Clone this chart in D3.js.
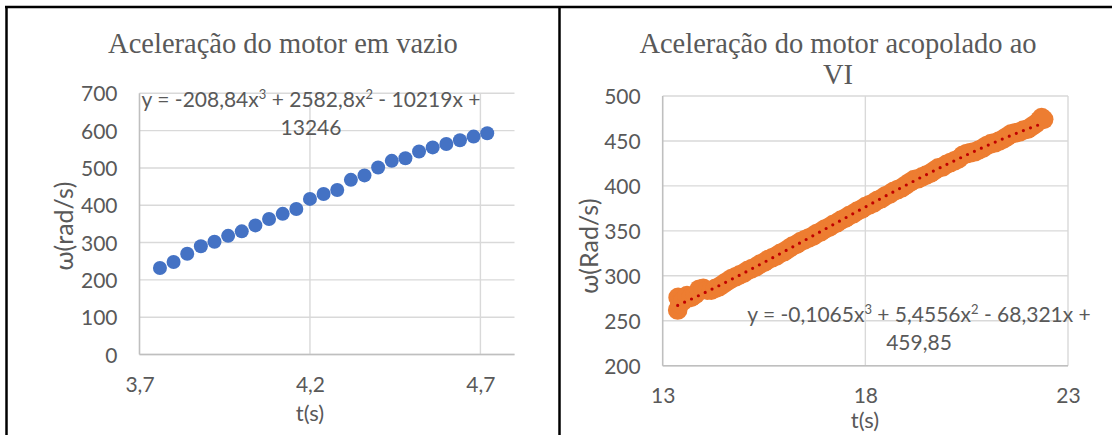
<!DOCTYPE html>
<html>
<head>
<meta charset="utf-8">
<script src="https://cdn.jsdelivr.net/npm/d3@7"></script>
<style>
  html, body { margin: 0; padding: 0; background: #fff; }
  svg { display: block; }
</style>
</head>
<body>
<svg id="chart" width="1112" height="435"></svg>
<script>
// ---- Motor em vazio ----
const tVazio = [3.76, 3.80, 3.84, 3.88, 3.92, 3.96, 4.00, 4.04, 4.08, 4.12,
                4.16, 4.20, 4.24, 4.28, 4.32, 4.36, 4.40, 4.44, 4.48, 4.52,
                4.56, 4.60, 4.64, 4.68, 4.72];
const wVazio = [232, 248, 270, 290, 302, 318, 330, 346, 363, 377,
                390, 417, 430, 441, 468, 480, 501, 519, 526, 544,
                555, 564, 574, 584, 593];
const xTicksVazio = [3.7, 4.2, 4.7];
const yTicksVazio = [0, 100, 200, 300, 400, 500, 600, 700];
const eqVazio = [["y = -208,84x", "3", " + 2582,8x", "2", " - 10219x +"], ["13246"]];

// ---- Motor acoplado ao VI ----
const tVI = [13.37, 13.38, 13.42, 13.5, 13.6, 13.7, 13.8, 13.9, 14.0, 14.1,
             14.2, 14.3, 14.4, 14.5, 14.6, 14.7, 14.8, 14.9, 15.0, 15.1,
             15.2, 15.3, 15.4, 15.5, 15.6, 15.7, 15.8, 15.9, 16.0, 16.1,
             16.2, 16.3, 16.4, 16.5, 16.6, 16.7, 16.8, 16.9, 17.0, 17.1,
             17.2, 17.3, 17.4, 17.5, 17.6, 17.7, 17.8, 17.9, 18.0, 18.1,
             18.2, 18.3, 18.4, 18.5, 18.6, 18.7, 18.8, 18.9, 19.0, 19.1,
             19.2, 19.3, 19.4, 19.5, 19.6, 19.7, 19.8, 19.9, 20.0, 20.1,
             20.2, 20.3, 20.4, 20.5, 20.6, 20.7, 20.8, 20.9, 21.0, 21.1,
             21.2, 21.3, 21.4, 21.5, 21.6, 21.7, 21.8, 21.9, 22.0, 22.1,
             22.2, 22.3, 22.35, 22.4];
const wVI = [262, 276, 269, 272, 278, 276, 279, 285, 286, 284,
             284, 286, 288, 291, 294, 297, 299, 301, 303, 306,
             308, 310, 313, 315, 318, 320, 322, 325, 327, 330,
             333, 335, 338, 340, 342, 344, 347, 349, 352, 354,
             357, 359, 362, 364, 367, 369, 372, 374, 377, 379,
             381, 384, 386, 389, 391, 394, 396, 398, 401, 404,
             407, 408, 410, 412, 414, 417, 420, 421, 424, 426,
             428, 430, 434, 436, 437, 438, 440, 442, 445, 447,
             448, 450, 452, 455, 458, 459, 460, 462, 463, 466,
             469, 473, 476, 474];
const xTicksVI = [13, 18, 23];
const yTicksVI = [200, 250, 300, 350, 400, 450, 500];
// polynomial trend line coefficients (x^3, x^2, x, 1)
const coefVI = [-0.1065, 5.4556, -68.321, 459.85];
const eqVI = [["y = -0,1065x", "3", " + 5,4556x", "2", " - 68,321x +"], ["459,85"]];

const ptBR = d3.formatLocale({decimal: ",", thousands: ".", grouping: [3], currency: ["R$", ""]});
const TXT = "#595959";
const SANS = "Lato, 'Open Sans', sans-serif";
const SERIF = "'Liberation Serif', 'DejaVu Serif', serif";

const svg = d3.select("#chart");

// page frame lines
const frame = svg.append("g").attr("stroke", "#000").attr("stroke-width", 2.5);
frame.append("line").attr("x1", 5).attr("x2", 1112).attr("y1", 7).attr("y2", 7);
frame.append("line").attr("x1", 6.5).attr("x2", 6.5).attr("y1", 6).attr("y2", 435);
frame.append("line").attr("x1", 559.5).attr("x2", 559.5).attr("y1", 6).attr("y2", 435);

function drawChart(cfg) {
  const g = svg.append("g");
  const x = d3.scaleLinear().domain(cfg.xDomain).range([cfg.left, cfg.right]);
  const y = d3.scaleLinear().domain(cfg.yDomain).range([cfg.bottom, cfg.top]);

  // gridlines
  g.append("g").selectAll("line.h").data(cfg.yTicks).join("line")
    .attr("x1", cfg.left).attr("x2", cfg.right)
    .attr("y1", d => y(d)).attr("y2", d => y(d))
    .attr("stroke", "#d9d9d9").attr("stroke-width", 1.4);
  g.append("g").selectAll("line.v").data(cfg.xTicks.filter(d => d !== cfg.xDomain[0])).join("line")
    .attr("x1", d => x(d)).attr("x2", d => x(d))
    .attr("y1", cfg.top).attr("y2", cfg.bottom)
    .attr("stroke", "#d9d9d9").attr("stroke-width", 1.4);

  // axis lines
  g.append("line").attr("x1", cfg.left).attr("x2", cfg.right)
    .attr("y1", y(cfg.yDomain[0])).attr("y2", y(cfg.yDomain[0]))
    .attr("stroke", "#bfbfbf").attr("stroke-width", 1.6);
  g.append("line").attr("x1", cfg.left).attr("x2", cfg.left)
    .attr("y1", cfg.top).attr("y2", cfg.bottom)
    .attr("stroke", "#bfbfbf").attr("stroke-width", 1.6);

  // tick labels via d3 axes
  const ya = g.append("g").attr("transform", `translate(${cfg.left - 22},0)`)
    .call(d3.axisLeft(y).tickValues(cfg.yTicks).tickSize(0).tickPadding(0).tickFormat(d3.format("d")));
  const xa = g.append("g").attr("transform", `translate(0,${cfg.bottom + 37})`)
    .call(d3.axisBottom(x).tickValues(cfg.xTicks).tickSize(0).tickPadding(0).tickFormat(cfg.xFormat));
  [ya, xa].forEach(a => {
    a.select(".domain").remove();
    a.selectAll("text").attr("fill", TXT).attr("font-family", SANS).attr("font-size", 21);
  });
  ya.selectAll("text").attr("dy", "0.36em");
  xa.selectAll("text").attr("dy", 0).attr("y", 0);

  // markers
  g.append("g").selectAll("circle").data(cfg.t).join("circle")
    .attr("cx", d => x(d)).attr("cy", (d, i) => y(cfg.w[i]))
    .attr("r", cfg.r).attr("fill", cfg.color);

  // trend line
  if (cfg.coef) {
    const [a, b, c, k] = cfg.coef;
    const t0 = d3.min(cfg.t), t1 = d3.max(cfg.t);
    const ts = d3.range(0, 201).map(i => t0 + (t1 - t0) * i / 200);
    g.append("path")
      .datum(ts)
      .attr("d", d3.line().x(d => x(d)).y(d => y(((a * d + b) * d + c) * d + k)))
      .attr("fill", "none").attr("stroke", "#c00000").attr("stroke-width", 3.2)
      .attr("stroke-linecap", "round").attr("stroke-dasharray", "0 7.6");
  }

  // equation label
  const eq = g.append("text").attr("fill", TXT).attr("font-family", SANS).attr("font-size", 21)
    .attr("text-anchor", "middle");
  cfg.eq.forEach((line, li) => {
    const tl = eq.append("tspan").attr("x", cfg.eqX).attr("y", cfg.eqY + li * 28.5);
    line.forEach((part, pi) => {
      if (pi % 2 === 1) {
        tl.append("tspan").attr("font-size", 13).attr("dy", -8).text(part);
      } else {
        const s = tl.append("tspan").text(part);
        if (pi > 0) s.attr("dy", 8);
      }
    });
  });

  // chart title
  const title = g.append("text").attr("fill", TXT).attr("font-family", SERIF)
    .attr("font-size", 28.5).attr("text-anchor", "middle");
  cfg.title.forEach((line, i) => {
    title.append("tspan").attr("x", cfg.titleX).attr("y", cfg.titleY + i * 31).text(line);
  });

  // axis titles
  g.append("text").attr("fill", TXT).attr("font-family", SANS).attr("font-size", 22)
    .attr("text-anchor", "middle").attr("x", cfg.xTitle[0]).attr("y", cfg.xTitle[1]).text("t(s)");
  g.append("text").attr("fill", TXT).attr("font-family", SANS).attr("font-size", 25)
    .attr("text-anchor", "middle")
    .attr("transform", `translate(${cfg.yTitle[0]},${cfg.yTitle[1]}) rotate(-90)`)
    .text(cfg.yLabel);
}

drawChart({
  t: tVazio, w: wVazio, color: "#4472c4", r: 7,
  xDomain: [3.7, 4.8], yDomain: [0, 700],
  xTicks: xTicksVazio, yTicks: yTicksVazio,
  xFormat: ptBR.format(".1f"),
  left: 139.5, right: 514.5, top: 93.3, bottom: 354.5,
  eq: eqVazio, eqX: 311, eqY: 106.5,
  title: ["Aceleração do motor em vazio"], titleX: 283, titleY: 53,
  xTitle: [310, 421], yTitle: [73, 226], yLabel: "ω(rad/s)"
});

drawChart({
  t: tVI, w: wVI, color: "#ed7d31", r: 9.8,
  xDomain: [13, 23], yDomain: [200, 500],
  xTicks: xTicksVI, yTicks: yTicksVI,
  xFormat: d3.format("d"), coef: coefVI,
  left: 662.7, right: 1068, top: 96, bottom: 365.7,
  eq: eqVI, eqX: 919, eqY: 321.5,
  title: ["Aceleração do motor acopolado ao", "VI"], titleX: 838, titleY: 53,
  xTitle: [865, 428], yTitle: [598, 246], yLabel: "ω(Rad/s)"
});
</script>
</body>
</html>
